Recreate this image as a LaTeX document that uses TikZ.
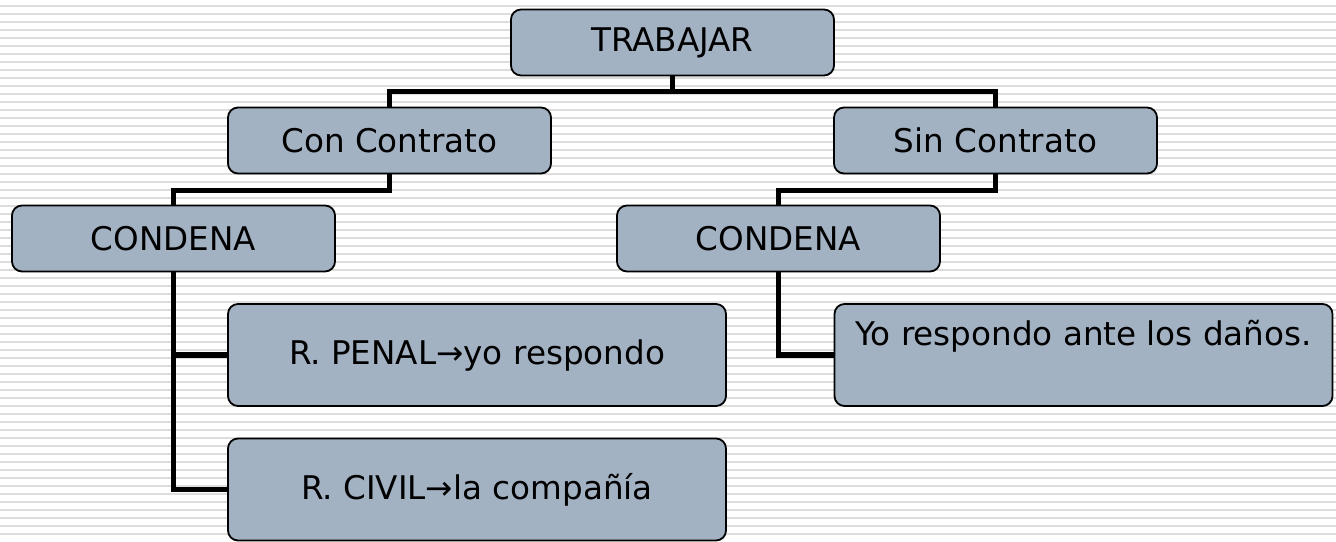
\documentclass[tikz,border=0pt]{standalone}
\usepackage{fontspec}
\setmainfont{DejaVu Sans}
\usepackage{tikz}
\usetikzlibrary{calc}
\definecolor{boxblue}{RGB}{163,178,195}
\definecolor{stripegray}{RGB}{221,221,221}
\def\drawlink{\draw[color=black, line width=2.8pt, line join=miter]}
\def\smallbox{\node[draw=black, line width=0.9pt, fill=boxblue, rounded corners=5pt, inner sep=0pt, minimum width=161.5pt, minimum height=33pt, font=\fontsize{16.3}{19.5}\selectfont]}
\def\widebox{\node[draw=black, line width=0.9pt, fill=boxblue, rounded corners=5pt, inner sep=0pt, minimum width=249pt, minimum height=51pt, align=center, font=\fontsize{16.3}{19.5}\selectfont]}

\begin{document}
\begin{tikzpicture}[x=0.5pt,y=-0.5pt]
\useasboundingbox (0,0) rectangle (1336,541);
\foreach \k in {0,...,66}
  \draw[stripegray, line width=1pt] (0,6+8*\k) -- (1336,6+8*\k);
\smallbox (trabajar) at (672.5,42.5) {TRABAJAR};
\smallbox (con) at (389.5,140.5) {Con Contrato};
\smallbox (sin) at (995.5,140.5) {Sin Contrato};
\smallbox (condl) at (173.5,238.5) {CONDENA};
\smallbox (condr) at (778.5,238.5) {CONDENA};
\widebox (penal) at (477,355) {R. PENAL→yo respondo};
\widebox (civil) at (477,489.5) {R. CIVIL→la compañía};
\widebox (danos) at (1083.5,355) {Yo respondo ante los daños.\\[-3pt] \strut};
\drawlink (trabajar.south) -- ++(0,15) -| (con.north);
\drawlink (trabajar.south) -- ++(0,15) -| (sin.north);
\drawlink (con.south) -- ++(0,16) -| (condl.north);
\drawlink (sin.south) -- ++(0,16) -| (condr.north);
\drawlink (condl.south) |- (penal.west);
\drawlink (condl.south) |- (civil.west);
\drawlink (condr.south) |- (danos.west);
\end{tikzpicture}
\end{document}
